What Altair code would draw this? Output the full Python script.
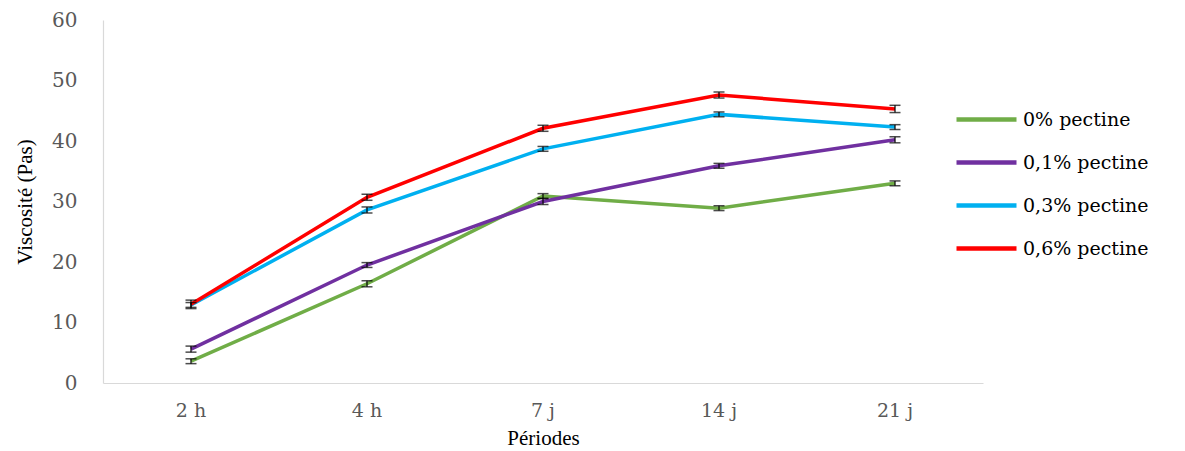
import altair as alt
import pandas as pd

periods = ["2 h", "4 h", "7 j", "14 j", "21 j"]
series = ["0% pectine", "0,1% pectine", "0,3% pectine", "0,6% pectine"]
colors = ["#70ad47", "#7030a0", "#00b0f0", "#ff0000"]

v_0 = [3.6, 16.4, 30.9, 28.9, 33.0]
v_01 = [5.6, 19.5, 30.0, 35.9, 40.2]
v_03 = [12.9, 28.6, 38.7, 44.4, 42.3]
v_06 = [13.0, 30.7, 42.1, 47.6, 45.3]

e_0 = [0.4, 0.5, 0.4, 0.4, 0.4]
e_01 = [0.5, 0.4, 0.5, 0.4, 0.5]
e_03 = [0.4, 0.5, 0.4, 0.4, 0.4]
e_06 = [0.7, 0.5, 0.5, 0.5, 0.6]

rows = []
for s, vals, errs in zip(series, [v_0, v_01, v_03, v_06], [e_0, e_01, e_03, e_06]):
    for p, v, e in zip(periods, vals, errs):
        rows.append({"periode": p, "serie": s, "v": v, "lo": v - e, "hi": v + e,
                     "order": series.index(s)})
df = pd.DataFrame(rows)

SERIF = "DejaVu Serif"
TITLE_FONT = "Liberation Serif"

x_enc = alt.X("periode:N", sort=periods, title="Périodes",
              scale=alt.Scale(paddingInner=0, paddingOuter=0),
              axis=alt.Axis(labelAngle=0, labelPadding=18, titlePadding=7))
y_scale = alt.Scale(domain=[0, 60], nice=False)
y_enc = alt.Y("v:Q", scale=y_scale, title="Viscosité (Pas)",
              axis=alt.Axis(values=[0, 10, 20, 30, 40, 50, 60], grid=False,
                            labelPadding=26, titlePadding=16))

base = alt.Chart(df)

lines = base.mark_line(strokeWidth=3.5).encode(
    x=x_enc,
    y=y_enc,
    color=alt.Color("serie:N", sort=series,
                    scale=alt.Scale(domain=series, range=colors),
                    legend=alt.Legend(title=None, orient="none", legendX=851, legendY=67,
                                      symbolType="stroke", symbolSize=3600,
                                      symbolStrokeWidth=4.5,
                                      labelOffset=4, rowPadding=-21, padding=0)),
    detail="serie:N",
    order="order:Q",
)

bars = base.mark_rule(color="#000000", strokeWidth=1.2).encode(
    x=x_enc,
    y=alt.Y("lo:Q", scale=y_scale, title="Viscosité (Pas)"),
    y2="hi:Q",
)
cap_lo = base.mark_tick(color="#000000", size=11, thickness=1.5).encode(
    x=x_enc,
    y=alt.Y("lo:Q", scale=y_scale, title="Viscosité (Pas)"),
)
cap_hi = base.mark_tick(color="#000000", size=11, thickness=1.5).encode(
    x=x_enc,
    y=alt.Y("hi:Q", scale=y_scale, title="Viscosité (Pas)"),
)

chart = alt.layer(lines, bars, cap_lo, cap_hi).properties(
    width=880, height=363,
    background="#ffffff",
    autosize=alt.AutoSizeParams(type="none"),
    padding={"left": 95, "top": 12, "right": 194, "bottom": 68},
).configure_view(
    stroke=None
).configure_axis(
    ticks=False, tickSize=0, grid=False,
    domainColor="#d9d9d9", domainWidth=1.2,
    labelFont=SERIF, labelFontSize=19, labelColor="#595959",
    titleFont=TITLE_FONT, titleFontSize=21, titleFontWeight="normal",
    titleColor="#000000",
).configure_axisY(
    labelFontSize=20,
).configure_legend(
    labelFont=SERIF, labelFontSize=19, labelColor="#000000",
)

chart.save("out.html", embed_options={"renderer": "svg", "actions": False})
